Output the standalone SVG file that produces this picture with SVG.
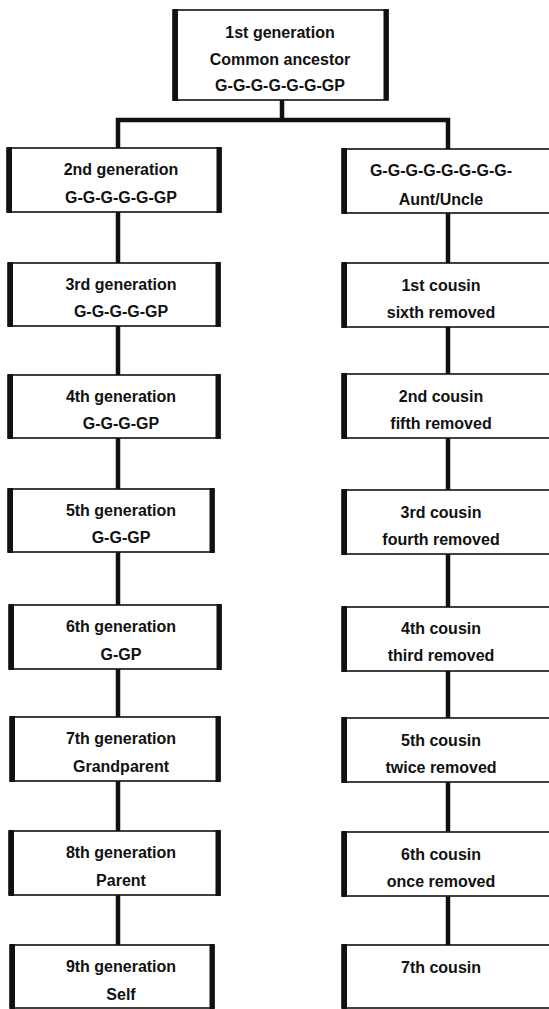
<svg xmlns="http://www.w3.org/2000/svg" width="549" height="1009" viewBox="0 0 549 1009">
<style>
.box{fill:#fff;stroke:#111;stroke-width:1.6}
.side{stroke:#111;stroke-width:5;fill:none}
.con{stroke:#111;stroke-width:4.5;fill:none}
text{font-family:"Liberation Sans",Arial,sans-serif;font-size:16px;font-weight:bold;fill:#111;text-anchor:middle}
</style>
<rect width="549" height="1009" fill="#fff"/>
<g id="connectors">
<path class="con" d="M282 100V120M116 120H450"/>
<path class="con" d="M118 118V148M118 212V263M118 326V375M118 438V489M118 552V605M118 669V717M118 781V831M118 895V945"/>
<path class="con" d="M448 118V149M448 213V263M448 327V374M448 438V490M448 554V607M448 671V718M448 782V832M448 896V945"/>
</g>
<g id="n1">
<rect class="box" x="173" y="10" width="215" height="90"/>
<path class="side" d="M175.5 9V101M386 9V100"/>
<text x="280" y="38">1st generation</text>
<text x="280" y="65">Common ancestor</text>
<text x="280" y="91">G-G-G-G-G-G-GP</text>
</g>
<g id="l2"><rect class="box" x="7" y="148" width="214" height="64"/><path class="side" d="M9.5 147V213M219 147V213"/><text x="121" y="175">2nd generation</text><text x="121" y="203">G-G-G-G-G-GP</text></g>
<g id="l3"><rect class="box" x="8" y="263" width="212" height="63"/><path class="side" d="M10.5 262V327M218 262V327"/><text x="121" y="290">3rd generation</text><text x="121" y="317">G-G-G-G-GP</text></g>
<g id="l4"><rect class="box" x="8" y="375" width="212" height="63"/><path class="side" d="M10.5 374V439M218 374V439"/><text x="121" y="402">4th generation</text><text x="121" y="429">G-G-G-GP</text></g>
<g id="l5"><rect class="box" x="8" y="489" width="206" height="63"/><path class="side" d="M10.5 488V553M212 488V553"/><text x="121" y="516">5th generation</text><text x="121" y="543">G-G-GP</text></g>
<g id="l6"><rect class="box" x="9" y="605" width="212" height="64"/><path class="side" d="M11.5 604V670M219 604V670"/><text x="121" y="632">6th generation</text><text x="121" y="660">G-GP</text></g>
<g id="l7"><rect class="box" x="10" y="717" width="210" height="64"/><path class="side" d="M12.5 716V782M218 716V782"/><text x="121" y="744">7th generation</text><text x="121" y="772">Grandparent</text></g>
<g id="l8"><rect class="box" x="9" y="831" width="211" height="64"/><path class="side" d="M11.5 830V896M218 830V896"/><text x="121" y="858">8th generation</text><text x="121" y="886">Parent</text></g>
<g id="l9"><rect class="box" x="10" y="945" width="204" height="63"/><path class="side" d="M12.5 944V1009M212 944V1009"/><text x="121" y="972">9th generation</text><text x="121" y="1000">Self</text></g>
<g id="r1"><rect class="box" x="342" y="149" width="220" height="64"/><path class="side" d="M344.5 148V214"/><text x="441" y="176">G-G-G-G-G-G-G-G-</text><text x="441" y="205">Aunt/Uncle</text></g>
<g id="r2"><rect class="box" x="342" y="263" width="220" height="64"/><path class="side" d="M344.5 262V328"/><text x="441" y="291">1st cousin</text><text x="441" y="318">sixth removed</text></g>
<g id="r3"><rect class="box" x="342" y="374" width="220" height="64"/><path class="side" d="M344.5 373V439"/><text x="441" y="402">2nd cousin</text><text x="441" y="429">fifth removed</text></g>
<g id="r4"><rect class="box" x="342" y="490" width="220" height="64"/><path class="side" d="M344.5 489V555"/><text x="441" y="518">3rd cousin</text><text x="441" y="545">fourth removed</text></g>
<g id="r5"><rect class="box" x="342" y="607" width="220" height="64"/><path class="side" d="M344.5 606V672"/><text x="441" y="634">4th cousin</text><text x="441" y="661">third removed</text></g>
<g id="r6"><rect class="box" x="342" y="718" width="220" height="64"/><path class="side" d="M344.5 717V783"/><text x="441" y="746">5th cousin</text><text x="441" y="773">twice removed</text></g>
<g id="r7"><rect class="box" x="342" y="832" width="220" height="64"/><path class="side" d="M344.5 831V897"/><text x="441" y="860">6th cousin</text><text x="441" y="887">once removed</text></g>
<g id="r8"><rect class="box" x="342" y="945" width="220" height="63"/><path class="side" d="M344.5 944V1009"/><text x="441" y="973">7th cousin</text></g>
</svg>
